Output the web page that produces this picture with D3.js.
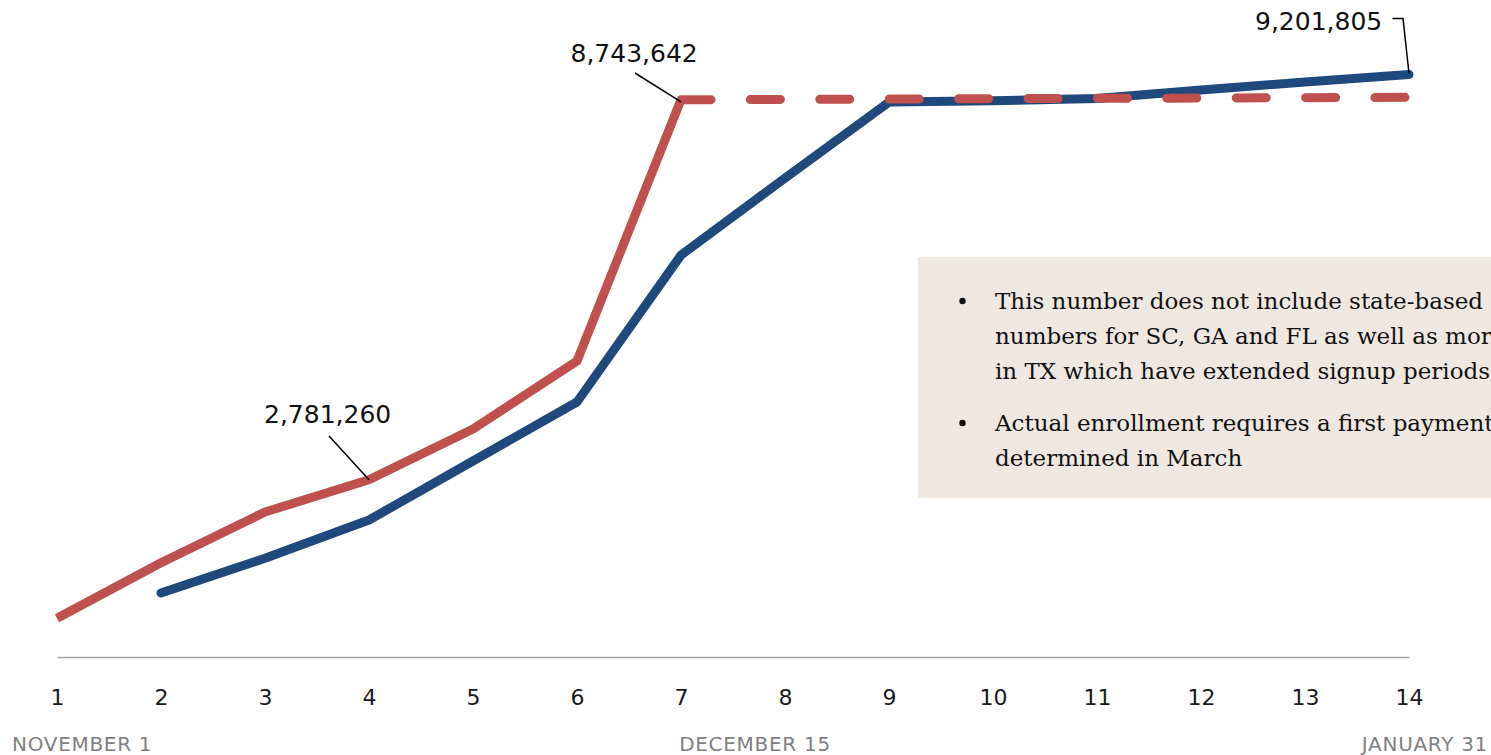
<!DOCTYPE html>
<html>
<head>
<meta charset="utf-8">
<script src="https://cdn.jsdelivr.net/npm/d3@7/dist/d3.min.js"></script>
<style>
  html, body { margin: 0; padding: 0; background: #ffffff; overflow: hidden; }
  svg { display: block; }
</style>
</head>
<body>
<div id="chart"></div>
<script>
// ---- data ----
const periods = [1, 2, 3, 4, 5, 6, 7, 8, 9, 10, 11, 12, 13, 14];
const tickLabels = ["1","2","3","4","5","6","7","8","9","10","11","12","13","14"];
const redPeriods = [1, 2, 3, 4, 5, 6, 7];
const redValues = [607000, 1479000, 2275000, 2781260, 3577000, 4644000, 8743642];
const redProjPeriods = [7, 14];
const redProjValues = [8743642, 8782000];
const bluePeriods = [2, 3, 4, 5, 6, 7, 8, 9, 10, 11, 12, 13, 14];
const blueValues = [1004000, 1549000, 2150000, 3075000, 4001000, 6307000, 7515000, 8708000, 8728000, 8763000, 8896000, 9022000, 9140000];
const monthLabels = ["NOVEMBER 1", "DECEMBER 15", "JANUARY 31"];
const callouts = [
  { text: "2,781,260", period: 4, value: 2781260 },
  { text: "8,743,642", period: 7, value: 8743642 },
  { text: "9,201,805", period: 14, value: 9140000 }
];
const noteBullets = [
  ["This number does not include state-based", "numbers for SC, GA and FL as well as more", "in TX which have extended signup periods"],
  ["Actual enrollment requires a first payment", "determined in March"]
];

// ---- layout ----
const W = 1491, H = 755;
const svg = d3.select("#chart").append("svg").attr("width", W).attr("height", H);

const x = d3.scaleLinear().domain([1, 14]).range([57, 1409]);
const y = d3.scaleLinear().domain([0, 10000000]).range([657, 19.7]);

const RED = "#c0504d", BLUE = "#1f497d";

// note box (runs off the right edge, as in the source)
const box = svg.append("g");
box.append("rect").attr("x", 918).attr("y", 257).attr("width", W - 918).attr("height", 241).attr("fill", "#efe8e1");
let lineY = 309;
noteBullets.forEach((lines, bi) => {
  box.append("circle").attr("cx", 962.5).attr("cy", lineY - 8).attr("r", 3.2).attr("fill", "#111");
  lines.forEach((t, li) => {
    box.append("text").attr("x", 995).attr("y", lineY)
      .attr("font-family", "'DejaVu Serif', Georgia, serif")
      .attr("font-size", 23).attr("fill", "#111").text(t);
    lineY += 35;
  });
  lineY += 17;
});

// axis
const axis = d3.axisBottom(x).tickValues(periods).tickFormat((d, i) => tickLabels[i]).tickSize(0).tickPadding(32);
const ax = svg.append("g").attr("transform", "translate(0,657)").call(axis);
ax.select(".domain").attr("stroke", "#a6a6a6").attr("stroke-width", 1.3);
ax.selectAll("text").attr("font-family", "'DejaVu Sans', Verdana, sans-serif").attr("font-size", 22).attr("fill", "#1a1a1a");

// month labels
const monthPos = [{ x: 12, anchor: "start" }, { x: 755, anchor: "middle" }, { x: 1488, anchor: "end" }];
svg.selectAll(".month").data(monthLabels).enter().append("text")
  .attr("x", (d, i) => monthPos[i].x).attr("y", 751)
  .attr("text-anchor", (d, i) => monthPos[i].anchor)
  .attr("font-family", "'DejaVu Sans', Verdana, sans-serif").attr("font-size", 20)
  .attr("letter-spacing", 0.7)
  .attr("fill", "#808080").text(d => d);

const line = d3.line().x(d => x(d[0])).y(d => y(d[1]));

// blue line
svg.append("path").datum(bluePeriods.map((p, i) => [p, blueValues[i]]))
  .attr("d", line).attr("fill", "none").attr("stroke", BLUE).attr("stroke-width", 9)
  .attr("stroke-linecap", "round").attr("stroke-linejoin", "round");

// red solid
svg.append("path").datum(redPeriods.map((p, i) => [p, redValues[i]]))
  .attr("d", line).attr("fill", "none").attr("stroke", RED).attr("stroke-width", 9)
  .attr("stroke-linecap", "butt").attr("stroke-linejoin", "round");

// red dashed projection
svg.append("path").datum(redProjPeriods.map((p, i) => [p, redProjValues[i]]))
  .attr("d", line).attr("fill", "none").attr("stroke", RED).attr("stroke-width", 9)
  .attr("stroke-linecap", "round").attr("stroke-dasharray", "30 39.4");

// callouts
const labelFont = "'DejaVu Sans', Verdana, sans-serif";
const c0 = callouts[0];
svg.append("line").attr("x1", 329).attr("y1", 436).attr("x2", x(c0.period)).attr("y2", y(c0.value))
  .attr("stroke", "#000").attr("stroke-width", 1.5);
svg.append("text").attr("x", 264).attr("y", 422.5).attr("font-family", labelFont).attr("font-size", 25).attr("fill", "#111").text(c0.text);

const c1 = callouts[1];
svg.append("line").attr("x1", 635).attr("y1", 73).attr("x2", x(c1.period)).attr("y2", y(c1.value) + 2)
  .attr("stroke", "#000").attr("stroke-width", 1.5);
svg.append("text").attr("x", 570.5).attr("y", 61.5).attr("font-family", labelFont).attr("font-size", 25).attr("fill", "#111").text(c1.text);

const c2 = callouts[2];
svg.append("path").attr("d", `M1392.5,18.5 L1403,18.5 L${x(c2.period)},${y(c2.value) - 1}`)
  .attr("fill", "none").attr("stroke", "#000").attr("stroke-width", 1.5);
svg.append("text").attr("x", 1255).attr("y", 30).attr("font-family", labelFont).attr("font-size", 25).attr("fill", "#111").text(c2.text);
</script>
</body>
</html>
